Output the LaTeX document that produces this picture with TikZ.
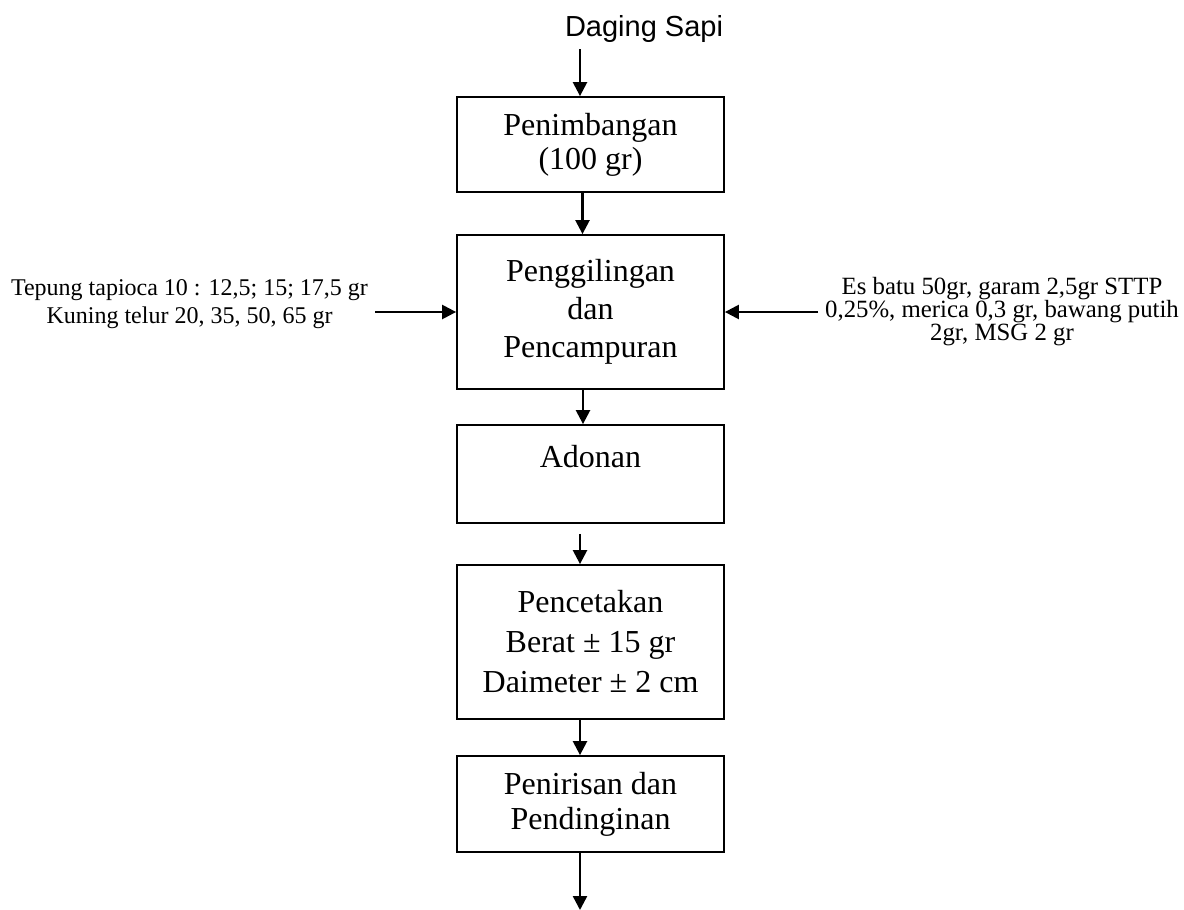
\documentclass[tikz,border=0pt]{standalone}
\usepackage{fontspec}
\usepackage{tikz}
\usetikzlibrary{arrows.meta}
\setmainfont{Liberation Serif}
\newfontfamily\arialfont{Liberation Sans}

\begin{document}
\begin{tikzpicture}[x=0.5pt,y=-0.5pt,
    proses/.style={draw,line width=0.9pt,minimum width=133.5pt,align=center,
        inner sep=0pt,font=\fontsize{16}{18}\selectfont},
    panah/.style={line width=1.2pt,-{Triangle[length=7pt,width=7pt]}}]
                \useasboundingbox (0,0) rectangle (1184,910);

                % Bahan utama
                \node[anchor=base,font=\arialfont\fontsize{14.5}{17}\selectfont] (sapi) at (644,36) {Daging Sapi};

                % Tahapan proses
                \node[proses,minimum height=47.5pt,font=\fontsize{16}{17}\selectfont] (timbang) at (590.5,144.5) {\raisebox{-3pt}{Penimbangan}\\\raisebox{-3pt}{(100 gr)}};
                \node[proses,minimum height=77pt,font=\fontsize{16}{19}\selectfont] (giling) at (590.5,312) {Penggilingan\\dan\\Pencampuran};
                \node[proses,minimum height=49pt] (adonan) at (590.5,474) {Adonan\\\mbox{}};
                \node[proses,minimum height=77pt,font=\fontsize{16}{20}\selectfont] (cetak) at (590.5,642) {Pencetakan\\Berat ± 15 gr\\Daimeter ± 2 cm};
                \node[proses,minimum height=48pt,font=\fontsize{16}{17.5}\selectfont] (tiris) at (590.5,804) {Penirisan dan\\Pendinginan};
                \coordinate (akhir) at (580,910);

                % Bahan tambahan
                \node[align=center,font=\fontsize{12}{14}\selectfont] (tepung) at (189.5,304) {Tepung tapioca 10 : 12,5; 15; 17,5 gr\\Kuning telur 20, 35, 50, 65 gr};
                \node[align=center,font=\fontsize{12.4}{11.5}\selectfont] (bumbu) at (1002,312) {Es batu 50gr, garam 2,5gr STTP\\0,25\%, merica 0,3 gr, bawang putih\\2gr, MSG 2 gr};

                % Panah
                \draw[panah] ([xshift=-5.25pt]timbang.north |- sapi.south) -- ([xshift=-5.25pt]timbang.north);
                \draw[panah] ([xshift=-4pt]timbang.south) -- ([xshift=-4pt]giling.north);
                \draw[panah] ([xshift=-3.75pt]giling.south) -- ([xshift=-3.75pt]adonan.north);
                \draw[panah] ([xshift=-5.25pt,yshift=-5pt]adonan.south) -- ([xshift=-5.25pt]cetak.north);
                \draw[panah] ([xshift=-5.25pt]cetak.south) -- ([xshift=-5.25pt]tiris.north);
                \draw[panah] ([xshift=-5.25pt]tiris.south) -- (akhir);
                \draw[panah] (tepung.east |- giling.west) -- (giling.west);
                \draw[panah] (bumbu.west |- giling.east) -- (giling.east);
            \end{tikzpicture}
\end{document}
